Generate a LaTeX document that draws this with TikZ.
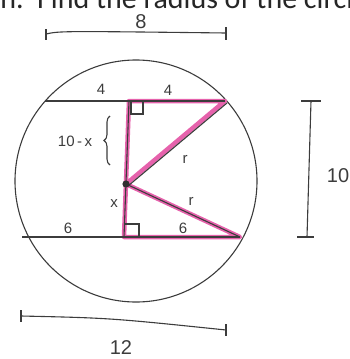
\documentclass[tikz,border=0pt]{standalone}
\usepackage{fontspec}
\setmainfont{Liberation Sans}
\newfontfamily\headfont{Carlito}
\usetikzlibrary{decorations.pathreplacing,calc}
\definecolor{hpink}{RGB}{230,98,172}
\definecolor{ink}{RGB}{60,60,60}
\tikzset{
  lbl/.style={font=\fontsize{15}{15}\selectfont, text=ink, inner sep=0pt},
  dimlbl/.style={font=\fontsize{20}{20}\selectfont, text=ink, inner sep=0pt},
  headtxt/.style={font=\headfont\fontsize{30}{30}\selectfont, text=black!85, inner sep=0pt, text depth=0pt, anchor=base west},
  pinkline/.style={draw=hpink, line width=4.5pt, line cap=round, line join=round},
  inkline/.style={draw=ink, line width=1.1pt},
  dimline/.style={draw=ink, line width=1.1pt},
}
\begin{document}
\begin{tikzpicture}[x=1pt,y=-1pt]
\useasboundingbox (0,0) rectangle (350,359);
\begin{scope}
\clip (0,0) rectangle (350,359);
% heading, clipped at top as in the reference
\node[headtxt, anchor=base east] (headn) at (24,8) {n.};
\node[headtxt] (head) at (37,8) {Find the radius of the circle};
% circle
\coordinate (O) at (136,181);
\draw[inkline] (O) circle (121);
% points
\coordinate (T0) at (45,101);
\coordinate (TA) at (129,101);
\coordinate (TB) at (225,101);
\coordinate (C) at (126,184);
\coordinate (B0) at (22,237);
\coordinate (BA) at (124,237);
\coordinate (BB) at (240,237);
% pink triangles
\draw[pinkline] (TB) -- (TA) -- (BA) -- (BB) -- (C) -- cycle;
% black lines
\draw[inkline] (T0) -- (TB);
\draw[inkline] (B0) -- (BB);
\draw[inkline] (TA) -- (BA);
\draw[inkline] ($(C)+(2,2)$) -- ($(TB)+(2,2)$);
\draw[inkline] (C) -- (BB);
% right angle marks
\draw[inkline] (131,101) -- (131,114) -- (143,114) -- (143,101);
\draw[inkline] (124,224) -- (139,224) -- (139,237);
% centre dot
\fill[ink!80!black] (C) circle (3.6);
% labels
\node[lbl] (l4a) at (101,89) {4};
\node[lbl] (l4b) at (168,90) {4};
\node[lbl] (l10x) at (75,141) {10\,-\,x};
\draw[inkline, decorate, decoration={brace, amplitude=6pt}] (110,165) -- (110,116);
\node[lbl] (lr1) at (185,159) {r};
\node[lbl] (lr2) at (191,201) {r};
\node[lbl] (lx) at (114,204) {x};
\node[lbl] (l6a) at (68,228) {6};
\node[lbl] (l6b) at (183,228) {6};
% dimension 8
\coordinate (d8a) at (46,34);
\coordinate (d8b) at (226,33);
\draw[dimline] (d8a) .. controls (60,31) .. (d8b);
\draw[dimline] ($(d8a)+(0,-5)$) -- ($(d8a)+(0,6)$);
\draw[dimline] ($(d8b)+(0,-6)$) -- ($(d8b)+(0,7)$);
\node[dimlbl] (l8) at (141,22) {8};
% dimension 12
\coordinate (d12a) at (21,316);
\coordinate (d12b) at (226,330);
\draw[dimline] (d12a) .. controls (110,318) .. (d12b);
\draw[dimline] ($(d12a)+(0,-6)$) -- ($(d12a)+(0,6)$);
\draw[dimline] ($(d12b)+(0,-6)$) -- ($(d12b)+(0,6)$);
\node[dimlbl] (l12) at (121,348) {12};
% dimension 10
\coordinate (d10a) at (311,101);
\coordinate (d10b) at (307,237);
\draw[dimline] (d10a) -- (d10b);
\draw[dimline] ($(d10a)+(-10,0)$) -- ($(d10a)+(10,0)$);
\draw[dimline] ($(d10b)+(-10,0)$) -- ($(d10b)+(7,0)$);
\node[dimlbl] (l10) at (338,176) {10};
\end{scope}
\end{tikzpicture}
\end{document}
